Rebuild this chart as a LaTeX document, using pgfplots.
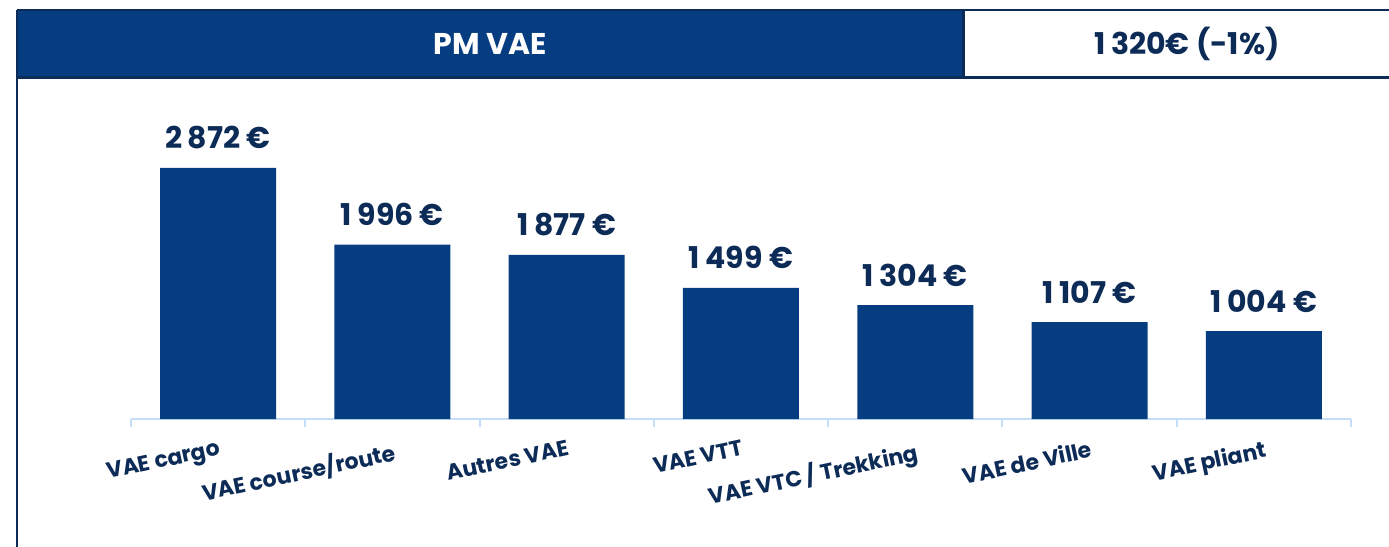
\documentclass[border=0pt]{standalone}
\usepackage{pgfplots}
\pgfplotsset{compat=1.18}
\usepackage{fontspec}
\setmainfont{Poppins}
\definecolor{barblue}{HTML}{063D80}
\definecolor{navy}{HTML}{0C2B57}
\definecolor{axblue}{HTML}{C5DDF8}
\newcommand{\ts}{\hspace{0.18em}}
\begin{document}
\begin{tikzpicture}
\begin{scope}[x=0.5pt,y=-0.5pt]
\useasboundingbox (0,0) rectangle (1389,547);
\fill[barblue] (18,10) rectangle (962,77);
\draw[navy, line width=1pt] (17,10) -- (1395,10);
\draw[navy, line width=1.5pt] (17,77) -- (1395,77);
\draw[navy, line width=1.5pt] (963,10) -- (963,77);
\draw[navy, line width=1pt] (17,10) -- (17,547);
\node[white, font=\bfseries\fontsize{15}{18}\selectfont] at (490,44) {PM VAE};
\node[navy, font=\bfseries\fontsize{15}{18}\selectfont] at (1187,44) {1\ts320€ (-1\%)};
\end{scope}
\begin{axis}[
  at={(65.5pt,-209.5pt)}, anchor=south west,
  scale only axis, width=610pt, height=153pt,
  xmin=-0.5, xmax=6.5, ymin=0, ymax=3500,
  axis y line=none, axis x line*=bottom,
  x axis line style={axblue, line width=1pt, -},
  xtick={0,...,6},
  xticklabels={VAE cargo,VAE course/route,Autres VAE,VAE VTT,VAE VTC / Trekking,VAE de Ville,VAE pliant},
  major tick length=0pt,
  minor xtick={-0.5,0.5,...,6.5},
  minor tick length=4pt, tick align=outside,
  minor tick style={axblue, line width=1pt},
  xticklabel style={rotate=12, anchor=north east, inner sep=0pt, yshift=-10pt, xshift=-2pt,
    font=\bfseries\fontsize{11}{13}\selectfont, text=navy},
  ybar, bar width=58pt,
  nodes near coords, point meta=explicit symbolic,
  every node near coord/.append style={anchor=base, yshift=9.5pt, inner sep=0pt,
    font=\bfseries\fontsize{15}{18}\selectfont, text=navy},
  clip=false,
]
\addplot[fill=barblue, draw=none] coordinates {
  (0,2872) [2\ts872 €]
  (1,1996) [1\ts996 €]
  (2,1877) [1\ts877 €]
  (3,1499) [1\ts499 €]
  (4,1304) [1\ts304 €]
  (5,1107) [1\ts107 €]
  (6,1004) [1\ts004 €]
};
\end{axis}
\end{tikzpicture}
\end{document}
